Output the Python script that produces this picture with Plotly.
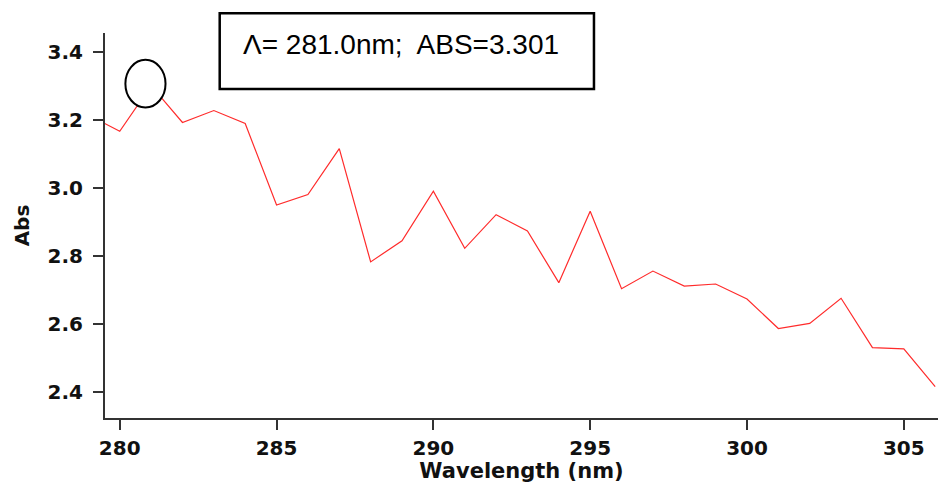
import plotly.graph_objects as go

wavelength = [279, 280, 281, 282, 283, 284, 285, 286, 287, 288, 289, 290, 291, 292,
              293, 294, 295, 296, 297, 298, 299, 300, 301, 302, 303, 304, 305, 306]
absorbance = [3.215, 3.167, 3.301, 3.193, 3.228, 3.190, 2.950, 2.981, 3.116, 2.783,
              2.845, 2.991, 2.823, 2.922, 2.874, 2.722, 2.932, 2.704, 2.756, 2.712,
              2.718, 2.674, 2.587, 2.602, 2.676, 2.531, 2.527, 2.416]
x_ticks = [280, 285, 290, 295, 300, 305]
y_ticks = [2.4, 2.6, 2.8, 3.0, 3.2, 3.4]
label_text = "Λ= 281.0nm;\u00a0 ABS=3.301"

fig = go.Figure()
fig.add_trace(go.Scatter(x=wavelength, y=absorbance, mode="lines",
                         line=dict(color="#ff2b2b", width=1.2), showlegend=False,
                         cliponaxis=True))

bold_font = "DejaVu Sans"
tick_font = dict(family=bold_font, size=20, color="#111111", weight="bold")
fig.update_xaxes(range=[279.53, 306.09], tickvals=x_ticks, ticks="outside", ticklen=10,
                 tickwidth=1.5, tickcolor="#333333", showline=True, linecolor="#333333",
                 linewidth=2, showgrid=False, zeroline=False, tickfont=tick_font,
                 ticklabelstandoff=1,
                 title=dict(text="Wavelength (nm)", standoff=3,
                            font=dict(family=bold_font, size=21,
                                      color="#111111", weight="bold")))
fig.update_yaxes(range=[2.324, 3.456], tickvals=y_ticks, tickformat=".1f", ticks="outside",
                 ticklen=10, tickwidth=1.5, tickcolor="#333333", showline=True,
                 linecolor="#333333", linewidth=2, showgrid=False, zeroline=False,
                 tickfont=tick_font, ticklabelstandoff=6,
                 title=dict(text="Abs", standoff=13,
                            font=dict(family=bold_font, size=20,
                                      color="#111111", weight="bold")))

# annotation box
fig.add_shape(type="rect", xref="paper", yref="paper", x0=0.1377, x1=0.587,
              y0=0.8545, y1=1.051, line=dict(color="black", width=2.5),
              fillcolor="white", layer="above")
fig.add_annotation(xref="paper", yref="paper", x=0.163, y=0.971, xanchor="left",
                   yanchor="middle", text=label_text, showarrow=False,
                   font=dict(family="Liberation Sans, Arial", size=28, color="black"))
# circle around the peak
fig.add_shape(type="circle", xref="x", yref="y", x0=280.18, x1=281.46, y0=3.237, y1=3.377,
              line=dict(color="black", width=2), fillcolor="white", layer="above")

fig.update_layout(width=938, height=483, margin=dict(l=105, r=0, t=33, b=65),
                  plot_bgcolor="white", paper_bgcolor="white")
fig.write_html("out.html")
